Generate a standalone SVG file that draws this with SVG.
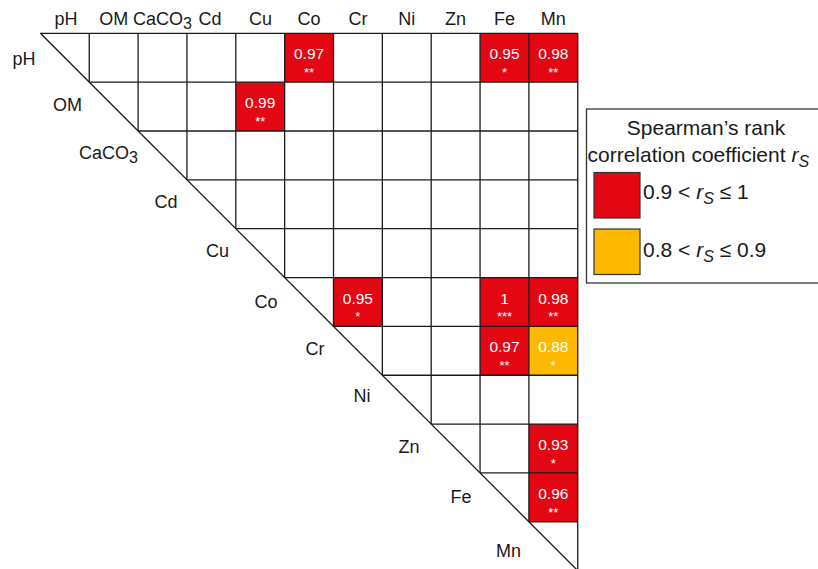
<svg xmlns="http://www.w3.org/2000/svg" width="818" height="569" viewBox="0 0 818 569">
<style>
text{font-family:"Liberation Sans",Arial,sans-serif;fill:#1a1a1a}
.hd{font-size:18px;text-anchor:middle}
.rl{font-size:18px;text-anchor:middle}
.v{font-size:15.5px;fill:#fff;text-anchor:middle}
.st{font-size:13px;fill:#fff;text-anchor:middle}
.lg{font-size:21px}
.red{fill:#E30613}
.org{fill:#FCB900}
.grid line{stroke:#1a1a1a;stroke-width:1.3}
</style>
<rect width="818" height="569" fill="#fff"/>
<g id="headers">
<text class="hd" x="66" y="25">pH</text>
<text class="hd" x="113.7" y="25">OM</text>
<text class="hd" x="162.5" y="25">CaCO<tspan font-size="16" dy="4">3</tspan></text>
<text class="hd" x="210" y="25">Cd</text>
<text class="hd" x="260.5" y="25">Cu</text>
<text class="hd" x="309.1" y="25">Co</text>
<text class="hd" x="357.9" y="25">Cr</text>
<text class="hd" x="406.8" y="25">Ni</text>
<text class="hd" x="455.6" y="25">Zn</text>
<text class="hd" x="504.5" y="25">Fe</text>
<text class="hd" x="553.3" y="25">Mn</text>
</g>
<g id="rowlabels">
<text class="rl" x="24" y="65">pH</text>
<text class="rl" x="67.5" y="111">OM</text>
<text class="rl" x="79" y="159" style="text-anchor:start">CaCO<tspan font-size="16" dy="4">3</tspan></text>
<text class="rl" x="166" y="208">Cd</text>
<text class="rl" x="217.5" y="257">Cu</text>
<text class="rl" x="266" y="308">Co</text>
<text class="rl" x="315" y="355">Cr</text>
<text class="rl" x="362" y="402">Ni</text>
<text class="rl" x="409" y="453">Zn</text>
<text class="rl" x="461" y="503">Fe</text>
<text class="rl" x="508.5" y="557">Mn</text>
</g>
<g id="cells">
<g id="c-pH-Co"><rect class="red" x="284.65" y="33.3" width="48.85" height="48.85"/><text class="v" x="309.1" y="59.3">0.97</text><text class="st" x="309.1" y="77">**</text></g>
<g id="c-pH-Fe"><rect class="red" x="480.05" y="33.3" width="48.85" height="48.85"/><text class="v" x="504.5" y="59.3">0.95</text><text class="st" x="504.5" y="77">*</text></g>
<g id="c-pH-Mn"><rect class="red" x="528.9" y="33.3" width="48.85" height="48.85"/><text class="v" x="553.3" y="59.3">0.98</text><text class="st" x="553.3" y="77">**</text></g>
<g id="c-OM-Cu"><rect class="red" x="235.8" y="82.15" width="48.85" height="48.85"/><text class="v" x="260.2" y="108.2">0.99</text><text class="st" x="260.2" y="125.9">**</text></g>
<g id="c-Co-Cr"><rect class="red" x="333.5" y="277.55" width="48.85" height="48.85"/><text class="v" x="357.9" y="303.6">0.95</text><text class="st" x="357.9" y="321.3">*</text></g>
<g id="c-Co-Fe"><rect class="red" x="480.05" y="277.55" width="48.85" height="48.85"/><text class="v" x="504.5" y="303.6">1</text><text class="st" x="504.5" y="321.3">***</text></g>
<g id="c-Co-Mn"><rect class="red" x="528.9" y="277.55" width="48.85" height="48.85"/><text class="v" x="553.3" y="303.6">0.98</text><text class="st" x="553.3" y="321.3">**</text></g>
<g id="c-Cr-Fe"><rect class="red" x="480.05" y="326.4" width="48.85" height="48.85"/><text class="v" x="504.5" y="352.4">0.97</text><text class="st" x="504.5" y="370.1">**</text></g>
<g id="c-Cr-Mn"><rect class="org" x="528.9" y="326.4" width="48.85" height="48.85"/><text class="v" x="553.3" y="352.4">0.88</text><text class="st" x="553.3" y="370.1">*</text></g>
<g id="c-Zn-Mn"><rect class="red" x="528.9" y="424.1" width="48.85" height="48.85"/><text class="v" x="553.3" y="450.1">0.93</text><text class="st" x="553.3" y="467.8">*</text></g>
<g id="c-Fe-Mn"><rect class="red" x="528.9" y="472.95" width="48.85" height="48.85"/><text class="v" x="553.3" y="499">0.96</text><text class="st" x="553.3" y="516.7">**</text></g>
</g>
<g id="connectors" class="grid">
<line x1="89.25" y1="33.3" x2="89.25" y2="82.15"/>
<line x1="138.1" y1="33.3" x2="138.1" y2="131"/>
<line x1="186.95" y1="33.3" x2="186.95" y2="179.85"/>
<line x1="235.8" y1="33.3" x2="235.8" y2="228.7"/>
<line x1="284.65" y1="33.3" x2="284.65" y2="277.55"/>
<line x1="333.5" y1="33.3" x2="333.5" y2="326.4"/>
<line x1="382.35" y1="33.3" x2="382.35" y2="375.25"/>
<line x1="431.2" y1="33.3" x2="431.2" y2="424.1"/>
<line x1="480.05" y1="33.3" x2="480.05" y2="472.95"/>
<line x1="528.9" y1="33.3" x2="528.9" y2="521.8"/>
<line x1="577.75" y1="33.3" x2="577.75" y2="570.65"/>
<line x1="40.4" y1="33.3" x2="577.75" y2="33.3"/>
<line x1="89.25" y1="82.15" x2="577.75" y2="82.15"/>
<line x1="138.1" y1="131" x2="577.75" y2="131"/>
<line x1="186.95" y1="179.85" x2="577.75" y2="179.85"/>
<line x1="235.8" y1="228.7" x2="577.75" y2="228.7"/>
<line x1="284.65" y1="277.55" x2="577.75" y2="277.55"/>
<line x1="333.5" y1="326.4" x2="577.75" y2="326.4"/>
<line x1="382.35" y1="375.25" x2="577.75" y2="375.25"/>
<line x1="431.2" y1="424.1" x2="577.75" y2="424.1"/>
<line x1="480.05" y1="472.95" x2="577.75" y2="472.95"/>
<line x1="528.9" y1="521.8" x2="577.75" y2="521.8"/>
<line x1="40.4" y1="33.3" x2="577.75" y2="570.65"/>
</g>
<g id="legend">
<rect x="586.5" y="109" width="240" height="174" fill="#fff" stroke="#333" stroke-width="1.3"/>
<text class="lg" x="706" y="135" text-anchor="middle">Spearman’s rank</text>
<text class="lg" x="587.5" y="162">correlation coefficient <tspan font-style="italic">r</tspan><tspan font-style="italic" font-size="16" dy="5">S</tspan></text>
<rect class="red" x="594" y="172.5" width="46" height="45.5" stroke="#333" stroke-width="1.2"/>
<rect class="org" x="594" y="229" width="46" height="45.5" stroke="#333" stroke-width="1.2"/>
<text class="lg" x="643" y="199">0.9 &lt; <tspan font-style="italic">r</tspan><tspan font-style="italic" font-size="16" dy="5">S</tspan><tspan dy="-5"> ≤ 1</tspan></text>
<text class="lg" x="643" y="257">0.8 &lt; <tspan font-style="italic">r</tspan><tspan font-style="italic" font-size="16" dy="5">S</tspan><tspan dy="-5"> ≤ 0.9</tspan></text>
</g>
</svg>
